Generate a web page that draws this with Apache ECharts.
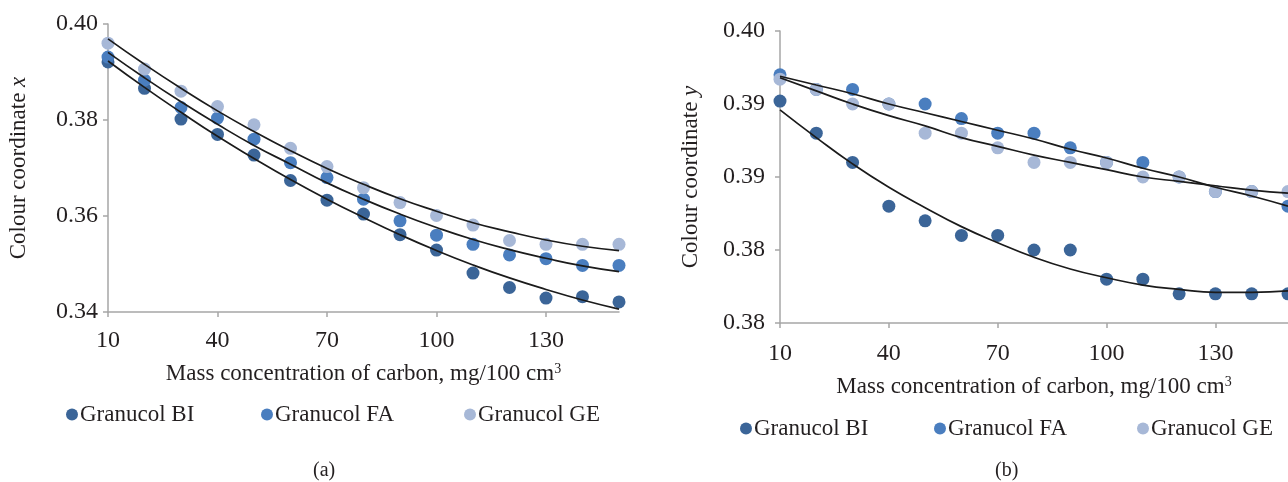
<!DOCTYPE html>
<html>
<head>
<meta charset="utf-8">
<script src="https://cdn.jsdelivr.net/npm/echarts@6/dist/echarts.min.js"></script>
<style>
html,body{margin:0;padding:0;background:#fff;}
#chart{width:1288px;height:482px;}
</style>
</head>
<body>
<div id="chart"></div>
<script>
// ---- data ----
const concentrations = [10,20,30,40,50,60,70,80,90,100,110,120,130,140,150];
const seriesNames = ['Granucol BI','Granucol FA','Granucol GE'];

// (a) colour coordinate x
const xBI = [0.3921,0.3866,0.3802,0.3770,0.3727,0.3674,0.3633,0.3604,0.3561,0.3529,0.3481,0.3451,0.3429,0.3432,0.3421];
const xFA = [0.3931,0.3883,0.3826,0.3804,0.3760,0.3711,0.3680,0.3635,0.3590,0.3560,0.3541,0.3519,0.3511,0.3497,0.3497];
const xGE = [0.3960,0.3906,0.3860,0.3828,0.3790,0.3741,0.3703,0.3659,0.3628,0.3601,0.3581,0.3549,0.3541,0.3541,0.3541];
const xTrendBI = [0.3923,0.3868,0.3816,0.3766,0.3720,0.3676,0.3635,0.3597,0.3561,0.3528,0.3498,0.3471,0.3447,0.3425,0.3406];
const xTrendFA = [0.3941,0.3888,0.3838,0.3791,0.3747,0.3708,0.3669,0.3635,0.3604,0.3576,0.3551,0.3530,0.3512,0.3496,0.3484];
const xTrendGE = [0.3969,0.3916,0.3866,0.3819,0.3776,0.3736,0.3699,0.3666,0.3636,0.3610,0.3586,0.3567,0.3550,0.3537,0.3528];

// (b) colour coordinate y
const yBI = [0.3952,0.3930,0.3910,0.3880,0.3870,0.3860,0.3860,0.3850,0.3850,0.3830,0.3830,0.3820,0.3820,0.3820,0.3820];
const yFA = [0.3970,0.3960,0.3960,0.3950,0.3950,0.3940,0.3930,0.3930,0.3920,0.3910,0.3910,0.3900,0.3890,0.3890,0.3880];
const yGE = [0.3967,0.3960,0.3950,0.3950,0.3930,0.3930,0.3920,0.3910,0.3910,0.3910,0.3900,0.3900,0.3890,0.3890,0.3890];
const yTrendBI = [0.3946,0.3927,0.3909,0.3893,0.3879,0.3866,0.3855,0.3845,0.3837,0.3831,0.3826,0.3823,0.3821,0.3821,0.3822];
const yTrendFA = [0.3969,0.3963,0.3957,0.3950,0.3944,0.3938,0.3932,0.3926,0.3919,0.3913,0.3906,0.3900,0.3893,0.3887,0.3880];
const yTrendGE = [0.3968,0.3959,0.3950,0.3942,0.3935,0.3927,0.3921,0.3915,0.3910,0.3905,0.3900,0.3897,0.3894,0.3891,0.3889];

const xTickValues = [10,40,70,100,130];
const yTickLabelsB = ['0.38','0.38','0.39','0.39','0.40'];

// ---- styling ----
const FONT = '"Liberation Serif","Times New Roman",serif';
const TXT = '#231f20';
const AX = '#a6a6a6';
const colors = ['#3b6598','#4a7ebf','#a7b8d7'];

const pts = arr => concentrations.map((c,i)=>[c, arr[i]]);

function xAxisDef(gridIndex, nameGap, labelMargin){
  return {
    type:'value', gridIndex, min:10, max:150, interval:30,
    name:'Mass concentration of carbon, mg/100 cm{sup|3}',
    nameLocation:'middle', nameGap,
    nameTextStyle:{fontFamily:FONT,fontSize:23,color:TXT,
      rich:{sup:{fontFamily:FONT,fontSize:14,color:TXT,verticalAlign:'top',padding:[0,0,10,0]}}},
    axisLine:{show:true,lineStyle:{color:AX,width:1.5}},
    axisTick:{show:true,length:5,lineStyle:{color:AX,width:1.5},customValues:xTickValues},
    axisLabel:{fontFamily:FONT,fontSize:24,color:TXT,margin:labelMargin,customValues:xTickValues},
    splitLine:{show:false}
  };
}

const scatterSeries = (xi, yi, arrs) => arrs.map((a,k)=>({
  type:'scatter', name:seriesNames[k], xAxisIndex:xi, yAxisIndex:yi,
  symbol:'circle', symbolSize:13, itemStyle:{color:colors[k],opacity:1},
  data:pts(a), z:2
}));
const trendSeries = (xi, yi, arrs) => arrs.map(a=>({
  type:'line', name:'trend', xAxisIndex:xi, yAxisIndex:yi,
  showSymbol:false, smooth:true, silent:true,
  lineStyle:{color:'#1b1b1b',width:1.7},
  data:pts(a), z:3
}));

function legendAt(name, left, top){
  return {data:[name], left, top, icon:'circle', itemWidth:12, itemHeight:12, itemGap:0,
    textStyle:{fontFamily:FONT,fontSize:23,color:TXT,padding:[0,0,0,-3]}};
}

function yAxisDef(gridIndex, min, max, interval, letter, margin, formatter){
  return {type:'value', gridIndex, min, max, interval,
    name:'Colour coordinate {i|' + letter + '}', nameLocation:'middle', nameGap:78, nameRotate:90,
    nameTextStyle:{fontFamily:FONT,fontSize:23,color:TXT,rich:{i:{fontFamily:FONT,fontSize:23,fontStyle:'italic',color:TXT}}},
    axisLine:{show:true,lineStyle:{color:AX,width:1.5}},
    axisTick:{show:true,length:5,lineStyle:{color:AX,width:1.5}},
    axisLabel:{fontFamily:FONT,fontSize:24,color:TXT,margin,formatter},
    splitLine:{show:false}};
}

const option = {
  animation:false,
  backgroundColor:'#ffffff',
  color:colors,
  grid:[
    {left:108, top:24, width:511, height:288},
    {left:780, top:31, width:510, height:292}
  ],
  xAxis:[ xAxisDef(0, 50, 17), xAxisDef(1, 52, 19) ],
  yAxis:[
    yAxisDef(0, 0.34, 0.40, 0.02, 'x', 10, v=>v.toFixed(2)),
    yAxisDef(1, 0.38, 0.40, 0.005, 'y', 15, v=>yTickLabelsB[Math.round((v-0.38)/0.005)])
  ],
  legend:[
    legendAt(seriesNames[0], 61, 398),
    legendAt(seriesNames[1], 256, 398),
    legendAt(seriesNames[2], 459, 398),
    legendAt(seriesNames[0], 735, 412),
    legendAt(seriesNames[1], 929, 412),
    legendAt(seriesNames[2], 1132, 412)
  ],
  title:[
    {text:'(a)', left:308, top:456, textStyle:{fontFamily:FONT,fontSize:20,fontWeight:'normal',color:TXT}},
    {text:'(b)', left:990, top:456, textStyle:{fontFamily:FONT,fontSize:20,fontWeight:'normal',color:TXT}}
  ],
  series:[
    ...scatterSeries(0,0,[xBI,xFA,xGE]),
    ...trendSeries(0,0,[xTrendBI,xTrendFA,xTrendGE]),
    ...scatterSeries(1,1,[yBI,yFA,yGE]),
    ...trendSeries(1,1,[yTrendBI,yTrendFA,yTrendGE])
  ]
};

const chart = echarts.init(document.getElementById('chart'), null, {renderer:'canvas'});
chart.setOption(option);
</script>
</body>
</html>
